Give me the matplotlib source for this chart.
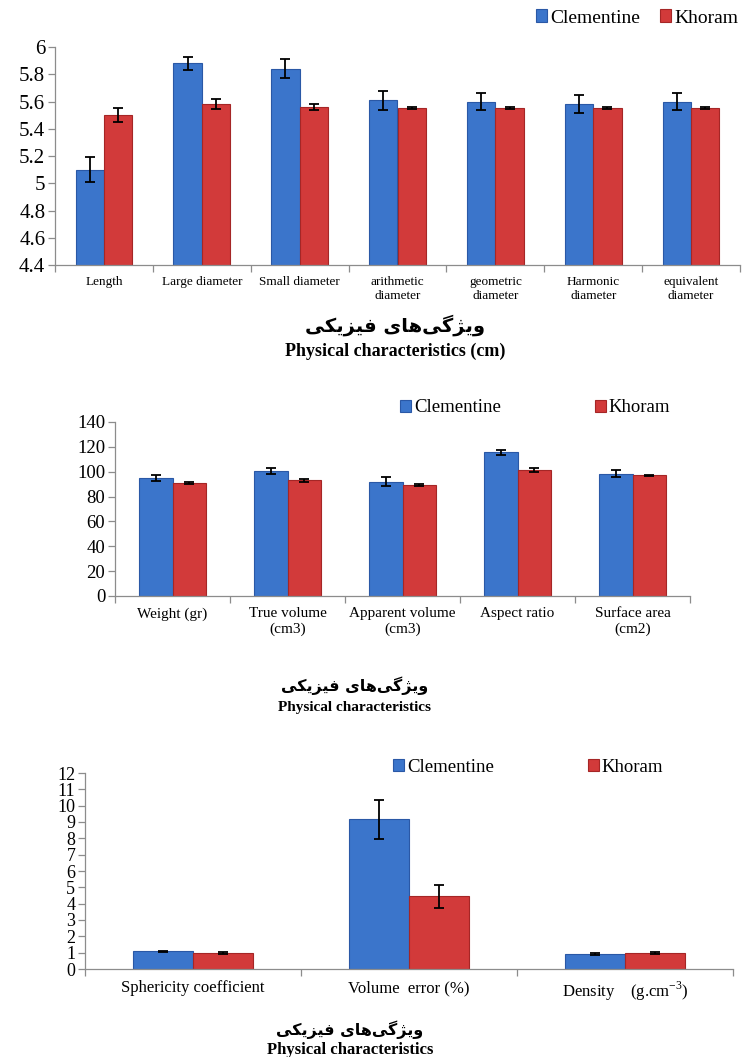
import matplotlib
matplotlib.use("Agg")
import matplotlib.pyplot as plt
import numpy as np

plt.rcParams['font.family'] = ['Liberation Serif', 'DejaVu Sans']

series_names = ["Clementine", "Khoram"]

# Panel 1
cats1 = ["Length", "Large diameter", "Small diameter", "arithmetic\ndiameter",
         "geometric\ndiameter", "Harmonic\ndiameter", "equivalent\ndiameter"]
clem1 = [5.10, 5.88, 5.84, 5.61, 5.60, 5.58, 5.60]
clem1_err = [0.09, 0.05, 0.07, 0.07, 0.065, 0.065, 0.065]
khor1 = [5.50, 5.58, 5.56, 5.55, 5.55, 5.55, 5.55]
khor1_err = [0.05, 0.035, 0.02, 0.006, 0.006, 0.006, 0.006]

# Panel 2
cats2 = ["Weight (gr)", "True volume\n(cm3)", "Apparent volume\n(cm3)", "Aspect ratio",
         "Surface area\n(cm2)"]
clem2 = [95, 100.5, 92, 115.5, 98.5]
clem2_err = [2.6, 2.7, 3.8, 1.8, 2.6]
khor2 = [91, 93, 89.3, 101.5, 97]
khor2_err = [0.8, 1.2, 0.5, 1.5, 0.6]

# Panel 3
cats3 = ["Sphericity coefficient", "Volume  error (%)",
         "Density    (g.cm$^{\\mathregular{-3}}$)"]
clem3 = [1.09, 9.16, 0.92]
clem3_err = [0.04, 1.2, 0.04]
khor3 = [0.99, 4.44, 0.98]
khor3_err = [0.05, 0.73, 0.05]

persian_logical = ["\uFEED", "\uFBFE", "\uFB8B", "\uFB94", "\uFBFD", "\uFEEB", "\uFE8E",
                   "\uFBFC", " ", "\uFED3", "\uFBFF", "\uFEB0", "\uFBFE", "\uFB91", "\uFBFD"]
persian_title = "".join(reversed(persian_logical))

BLUE = "#3B75CB"
BLUE_E = "#2A58A6"
RED = "#D23A3A"
RED_E = "#A52626"
AXC = "#8C8C8C"

fig = plt.figure(figsize=(7.45, 10.57), dpi=100)


def panel(rect, cats, c, ce, k, ke, ylim, yticks, ylab_fs, xlab_fs, width):
    ax = fig.add_axes(rect)
    x = np.arange(len(cats))
    b1 = ax.bar(x - width / 2, c, width, color=BLUE, edgecolor=BLUE_E, linewidth=0.8,
                yerr=ce, error_kw=dict(ecolor="black", elinewidth=1.3, capsize=3.5, capthick=1.3),
                label=series_names[0], zorder=2)
    b2 = ax.bar(x + width / 2, k, width, color=RED, edgecolor=RED_E, linewidth=0.8,
                yerr=ke, error_kw=dict(ecolor="black", elinewidth=1.3, capsize=3.5, capthick=1.3),
                label=series_names[1], zorder=2)
    ax.set_xlim(-0.5, len(cats) - 0.5)
    ax.set_ylim(*ylim)
    ax.set_yticks(yticks)
    ax.set_yticklabels([("%g" % t) for t in yticks], fontsize=ylab_fs)
    ax.set_xticks(x)
    ax.set_xticklabels(cats, fontsize=xlab_fs, linespacing=1.2)
    ax.tick_params(axis="x", length=0, pad=8)
    ax.set_xticks(np.arange(len(cats) + 1) - 0.5, minor=True)
    ax.tick_params(axis="x", which="minor", length=5, color=AXC, width=0.9)
    ax.tick_params(axis="y", length=5, color=AXC, width=0.9, pad=2)
    for s in ["top", "right"]:
        ax.spines[s].set_visible(False)
    for s in ["left", "bottom"]:
        ax.spines[s].set_color(AXC)
        ax.spines[s].set_linewidth(0.9)
    return ax, b1, b2


# Panel 1
ax1, b1, b2 = panel([55 / 745, 1 - 265 / 1057, 685 / 745, 218 / 1057], cats1, clem1, clem1_err,
                    khor1, khor1_err, (4.4, 6.0), np.round(np.arange(4.4, 6.01, 0.2), 1),
                    15, 9.5, 0.29)
fig.legend([b1, b2], series_names, loc="center", bbox_to_anchor=(637 / 745, 1 - 18 / 1057),
           ncol=2, frameon=False, fontsize=14, handlelength=0.6, handleheight=0.6,
           handletextpad=0.15, columnspacing=1.0, borderaxespad=0)
fig.text(395 / 745, 1 - 325 / 1057, persian_title, ha="center", va="center", fontsize=14,
         fontweight="bold", family="DejaVu Sans")
fig.text(395 / 745, 1 - 351 / 1057, "Physical characteristics (cm)", ha="center", va="center",
         fontsize=13, fontweight="bold")

# Panel 2
ax2, c1, c2 = panel([115 / 745, 1 - 596 / 1057, 575 / 745, 174 / 1057], cats2, clem2, clem2_err,
                    khor2, khor2_err, (0, 140), np.arange(0, 141, 20), 13.5, 11, 0.29)
ax2.legend([c1, c2], series_names, loc="center", bbox_to_anchor=(535 / 745, 1 - 408 / 1057),
           bbox_transform=fig.transFigure, ncol=2, frameon=False, fontsize=13.5,
           handlelength=0.6, handleheight=0.6, handletextpad=0.15, columnspacing=5.0,
           borderaxespad=0)
fig.text(355 / 745, 1 - 686 / 1057, persian_title, ha="center", va="center", fontsize=11.5,
         fontweight="bold", family="DejaVu Sans")
fig.text(355 / 745, 1 - 708 / 1057, "Physical characteristics", ha="center", va="center",
         fontsize=11, fontweight="bold")

# Panel 3
ax3, d1, d2 = panel([85 / 745, 1 - 969 / 1057, 648 / 745, 196 / 1057], cats3, clem3, clem3_err,
                    khor3, khor3_err, (0, 12), np.arange(0, 13, 1), 13, 12, 0.28)
ax3.legend([d1, d2], series_names, loc="center", bbox_to_anchor=(528 / 745, 1 - 767 / 1057),
           bbox_transform=fig.transFigure, ncol=2, frameon=False, fontsize=13.5,
           handlelength=0.6, handleheight=0.6, handletextpad=0.15, columnspacing=5.0,
           borderaxespad=0)
fig.text(350 / 745, 1 - 1030 / 1057, persian_title, ha="center", va="center", fontsize=11.5,
         fontweight="bold", family="DejaVu Sans")
fig.text(350 / 745, 1 - 1050 / 1057, "Physical characteristics", ha="center", va="center",
         fontsize=12, fontweight="bold")

fig.savefig("out.png", dpi=100)
